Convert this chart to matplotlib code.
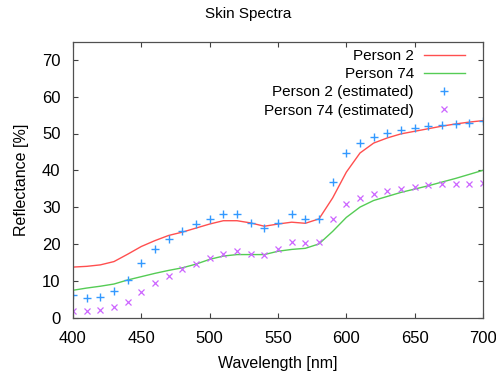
import matplotlib
matplotlib.use("Agg")
import matplotlib.pyplot as plt

plt.rcParams['font.family'] = ['Liberation Sans', 'DejaVu Sans']

wl = [400, 410, 420, 430, 440, 450, 460, 470, 480, 490, 500, 510, 520, 530, 540,
      550, 560, 570, 580, 590, 600, 610, 620, 630, 640, 650, 660, 670, 680, 690, 700]

person2 = [13.7, 13.9, 14.3, 15.2, 17.2, 19.3, 20.9, 22.3, 23.2, 24.3, 25.4, 26.3, 26.3,
           25.7, 24.8, 25.4, 25.9, 25.6, 26.8, 32.5, 39.5, 44.7, 47.4, 48.8, 49.9, 50.6,
           51.3, 52.0, 52.6, 53.1, 53.5]
person74 = [7.4, 8.0, 8.5, 9.1, 10.2, 11.1, 12.0, 12.8, 13.5, 14.5, 15.8, 16.7, 17.1,
            17.1, 17.1, 18.0, 18.5, 18.8, 20.0, 23.4, 27.2, 30.0, 31.8, 32.9, 34.0, 34.9,
            35.8, 36.8, 37.8, 38.9, 40.0]
person2_est = [6.0, 5.4, 5.5, 7.3, 10.1, 14.9, 18.5, 21.2, 23.4, 25.3, 26.8, 28.1, 28.1,
               25.7, 24.2, 25.7, 28.1, 26.9, 26.8, 36.8, 44.7, 47.3, 49.1, 50.2, 50.9,
               51.4, 52.0, 52.4, 52.7, 52.9, 53.3]
person74_est = [1.9, 1.9, 2.1, 2.9, 4.3, 6.9, 9.4, 11.2, 13.2, 14.5, 16.1, 17.3, 18.0,
                17.3, 16.9, 18.5, 20.5, 20.2, 20.5, 26.7, 30.9, 32.4, 33.5, 34.3, 34.9,
                35.5, 35.9, 36.2, 36.2, 36.3, 36.5]

xticks = [400, 450, 500, 550, 600, 650, 700]
yticks = [0, 10, 20, 30, 40, 50, 60, 70]

fig = plt.figure(figsize=(4.96, 3.74), dpi=100)
ax = fig.add_axes([73/496, 1-317.5/374, 410/496, 276/374])

ax.plot(wl, person2, color='#ff4f4f', lw=1.0, label='Person 2')
ax.plot(wl, person74, color='#55cc55', lw=1.0, label='Person 74')
ax.plot(wl, person2_est, ls='none', marker='+', ms=5.5, mew=1.0, color='#3399ff',
        label='Person 2 (estimated)')
ax.plot(wl, person74_est, ls='none', marker='x', ms=4.5, mew=0.9, color='#cc66ff',
        label='Person 74 (estimated)')

ax.set_xlim(400, 700)
ax.set_ylim(0, 75)
ax.set_xticks(xticks)
ax.set_yticks(yticks)
ax.tick_params(direction='in', length=3.5, width=0.8, color='#404040', labelsize=12,
               top=True, right=True)
ax.tick_params(axis='x', pad=10)
ax.tick_params(axis='y', pad=9)
for s in ax.spines.values():
    s.set_color('#505050')
    s.set_linewidth(0.9)

ax.set_xlabel('Wavelength [nm]', fontsize=11.5, labelpad=7)
ax.set_ylabel('Reflectance [%]', fontsize=11.5, labelpad=9)
fig.text(0.5, 1-14/374, 'Skin Spectra', ha='center', va='center', fontsize=11)

ax.legend(loc='upper right', bbox_to_anchor=((465-73)/410, 0.972), frameon=False,
          markerfirst=False, fontsize=11, handlelength=2.7, handletextpad=0.65,
          labelspacing=0.27, borderaxespad=0, borderpad=0, numpoints=1)

fig.savefig('out.png', dpi=100)
